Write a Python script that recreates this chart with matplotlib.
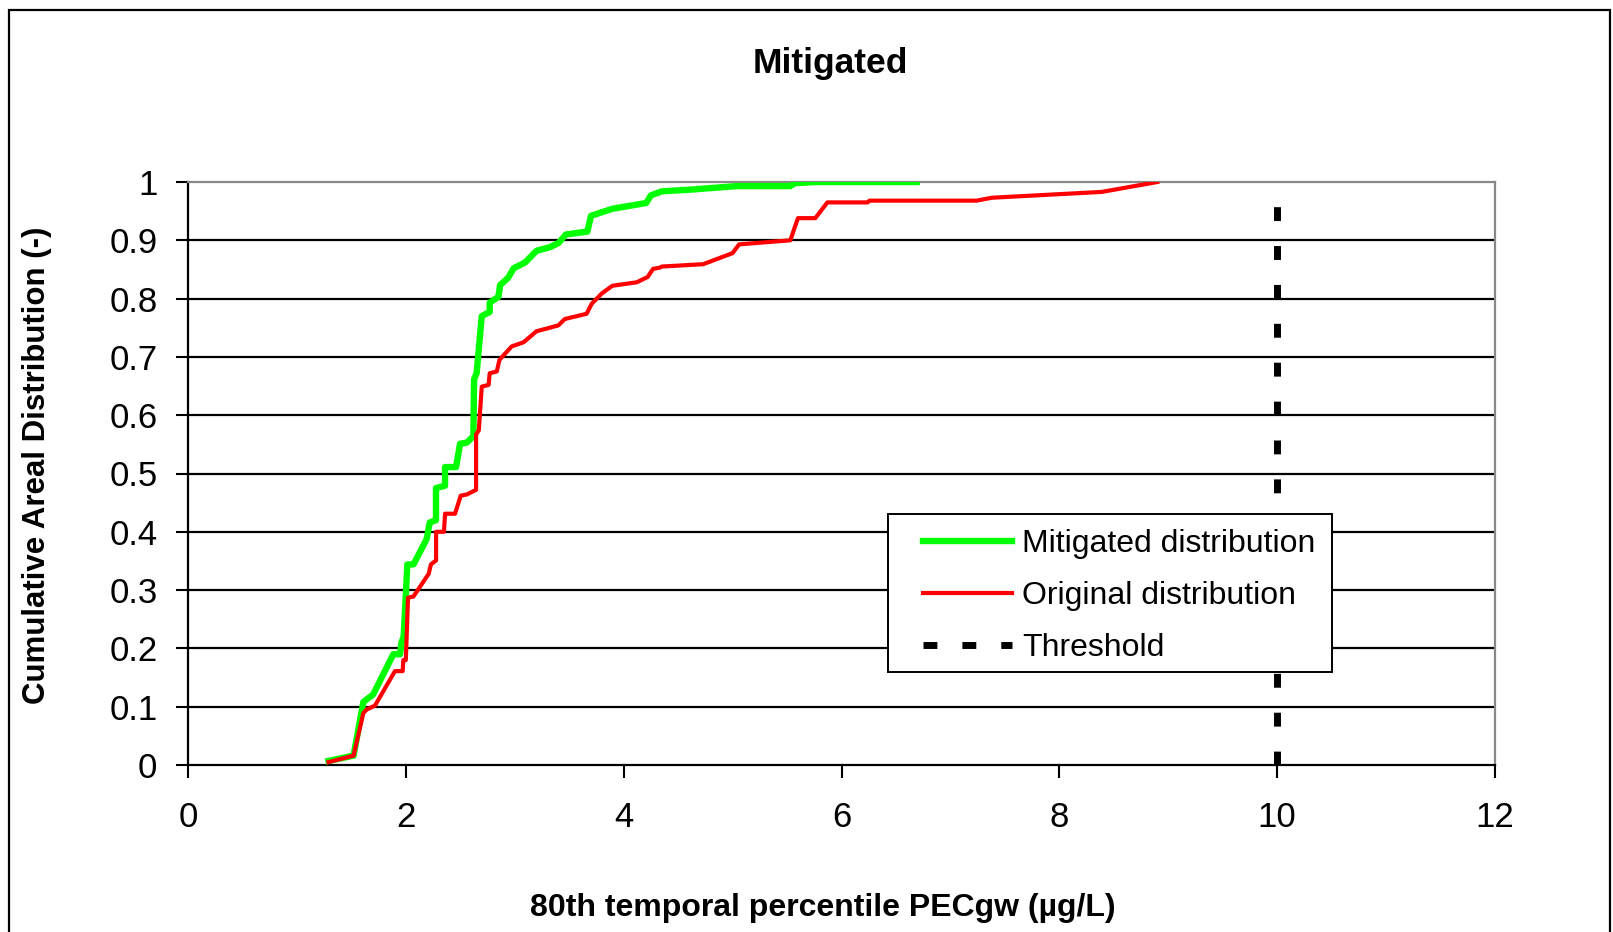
import matplotlib
matplotlib.use('Agg')
import matplotlib.pyplot as plt
from matplotlib.patches import Rectangle

plt.rcParams['font.family'] = ['Liberation Sans', 'DejaVu Sans']

# mitigated distribution (green)
mit_x = [1.29, 1.52, 1.61, 1.70, 1.885, 1.947, 1.96, 1.98, 2.014, 2.07, 2.19, 2.22,
         2.277, 2.277, 2.36, 2.36, 2.461, 2.498, 2.56, 2.62, 2.627, 2.65, 2.697, 2.77,
         2.77, 2.85, 2.865, 2.94, 2.99, 3.095, 3.2, 3.32, 3.40, 3.47, 3.667, 3.70,
         3.895, 4.207, 4.25, 4.35, 4.62, 5.04, 5.53, 5.57, 5.76, 6.69]
mit_y = [0.007, 0.016, 0.108, 0.121, 0.19, 0.19, 0.21, 0.22, 0.344, 0.344, 0.387, 0.416,
         0.42, 0.475, 0.479, 0.511, 0.511, 0.551, 0.553, 0.564, 0.662, 0.672, 0.77, 0.777,
         0.793, 0.803, 0.823, 0.836, 0.852, 0.862, 0.882, 0.888, 0.895, 0.91, 0.915, 0.942,
         0.954, 0.964, 0.977, 0.984, 0.987, 0.993, 0.993, 0.998, 1.0, 1.0]

# original distribution (red)
orig_x = [1.29, 1.52, 1.61, 1.64, 1.717, 1.90, 1.971, 1.977, 2.0, 2.02, 2.07, 2.21,
          2.23, 2.278, 2.278, 2.35, 2.36, 2.452, 2.504, 2.56, 2.645, 2.645, 2.67, 2.697,
          2.76, 2.77, 2.835, 2.86, 2.972, 3.08, 3.2, 3.40, 3.46, 3.66, 3.706, 3.80,
          3.896, 4.12, 4.22, 4.27, 4.33, 4.35, 4.73, 5.0, 5.06, 5.53, 5.60, 5.76,
          5.87, 6.24, 6.256, 7.24, 7.38, 8.39, 8.90]
orig_y = [0.005, 0.016, 0.089, 0.095, 0.102, 0.161, 0.161, 0.18, 0.18, 0.287, 0.289, 0.328,
          0.344, 0.351, 0.40, 0.40, 0.431, 0.431, 0.462, 0.464, 0.472, 0.567, 0.574, 0.649,
          0.652, 0.672, 0.675, 0.695, 0.718, 0.725, 0.744, 0.754, 0.765, 0.774, 0.791, 0.809,
          0.822, 0.828, 0.837, 0.851, 0.853, 0.855, 0.859, 0.878, 0.893, 0.90, 0.938, 0.938,
          0.965, 0.965, 0.968, 0.968, 0.973, 0.983, 1.0]

threshold_x = [10, 10]
threshold_y = [0, 1]

xticks = [0, 2, 4, 6, 8, 10, 12]
yticks = [0, 0.1, 0.2, 0.3, 0.4, 0.5, 0.6, 0.7, 0.8, 0.9, 1]
ytick_labels = ['0', '0.1', '0.2', '0.3', '0.4', '0.5', '0.6', '0.7', '0.8', '0.9', '1']

W, H = 1613, 932
fig = plt.figure(figsize=(W/100, H/100), dpi=100)
ax = fig.add_axes([188/W, 1-765/H, (1495-188)/W, (765-182)/H])

# outer chart border
fig.patches.append(Rectangle((9/W, -0.05), (1610-9)/W, 1.05-10/H,
                             transform=fig.transFigure, fill=False,
                             edgecolor='black', linewidth=1.6, clip_on=False))

for y in yticks[1:-1]:
    ax.axhline(y, color='black', linewidth=1.6, zorder=1)

ax.plot(mit_x, mit_y, color='#00ff00', linewidth=4.6, label='Mitigated distribution', zorder=3)
ax.plot(orig_x, orig_y, color='#ff0000', linewidth=3.0, label='Original distribution', zorder=4)
ax.plot(threshold_x, threshold_y, color='black', linewidth=5,
        linestyle=(0, (2.0, 3.6)), dash_capstyle='butt', label='Threshold', zorder=2)

ax.set_xlim(0, 12)
ax.set_ylim(0, 1)
ax.set_xticks(xticks)
ax.set_yticks(yticks)
ax.set_yticklabels(ytick_labels)
ax.tick_params(axis='both', direction='out', length=9, width=1.5, labelsize=25, color='black')
ax.tick_params(axis='x', pad=17)
ax.tick_params(axis='y', pad=13)

for s in ['left', 'bottom']:
    ax.spines[s].set_color('black')
    ax.spines[s].set_linewidth(1.6)
for s in ['top', 'right']:
    ax.spines[s].set_color('#888888')
    ax.spines[s].set_linewidth(1.6)

# legend box drawn by hand, entries placed inside it
box = Rectangle((888/W, 1-672/H), (1332-888)/W, (672-514)/H, transform=fig.transFigure,
                facecolor='white', edgecolor='black', linewidth=1.4, zorder=5)
ax.add_artist(box)
box.set_clip_on(False)

leg = ax.legend(loc='upper left', bbox_to_anchor=(923/W, 1-529/H),
                bbox_transform=fig.transFigure, fontsize=23, frameon=False,
                handlelength=2.79, handletextpad=0.31, labelspacing=0.69,
                borderpad=0, borderaxespad=0)
leg.set_zorder(6)

fig.text(830/W, 1-64/H, 'Mitigated', ha='center', va='center',
         fontsize=25.5, fontweight='bold')
fig.text(823/W, 1-908/H, '80th temporal percentile PECgw (µg/L)', ha='center',
         va='center', fontsize=23, fontweight='bold')
fig.text(37/W, 1-465/H, 'Cumulative Areal Distribution (-)', ha='center',
         va='center', rotation=90, fontsize=22.5, fontweight='bold')

fig.savefig('out.png', dpi=100)
